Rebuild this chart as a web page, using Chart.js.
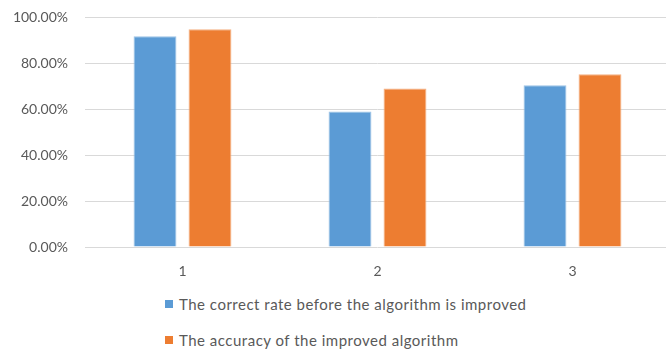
<!DOCTYPE html>
<html>
<head>
<meta charset="utf-8">
<script src="https://cdn.jsdelivr.net/npm/chart.js@4/dist/chart.umd.min.js"></script>
<style>
  body { margin: 0; background: #fff; font-family: Lato, sans-serif; overflow: hidden; }
  #wrap { position: relative; width: 670px; height: 293px; margin-top: -8px; }
  #legend { padding-left: 165px; margin-top: 10px; }
  .item { display: flex; align-items: center; height: 18px; margin-bottom: 18px; font-size: 15px; letter-spacing: 0.5px; color: #595959; }
  .box { width: 8px; height: 8px; margin-right: 6px; }
</style>
</head>
<body>
<div id="wrap"><canvas id="barChart"></canvas></div>
<div id="legend"></div>
<script>
// Kategorien und Werte (in Prozent)
const categories = ['1', '2', '3'];
const seriesNames = ['The correct rate before the algorithm is improved', 'The accuracy of the improved algorithm'];
const beforeValues = [91.8, 59.0, 70.4];
const improvedValues = [94.8, 69.0, 75.2];
const yTicks = [0, 20, 40, 60, 80, 100];

const colors = ['#5B9BD5', '#ED7D31'];
const borders = ['#9DC3E6', '#F4B183'];

const chartData = {
  labels: categories,
  datasets: [
    { label: seriesNames[0], data: beforeValues, backgroundColor: colors[0], borderColor: borders[0], borderWidth: 1 },
    { label: seriesNames[1], data: improvedValues, backgroundColor: colors[1], borderColor: borders[1], borderWidth: 1 }
  ]
};

const tickFont = { family: 'Lato', size: 14 };

const ctx = document.getElementById('barChart').getContext('2d');
const myChart = new Chart(ctx, {
  type: 'bar',
  data: chartData,
  options: {
    responsive: true,
    maintainAspectRatio: false,
    animation: false,
    layout: { padding: 0 },
    categoryPercentage: 0.564,
    barPercentage: 0.78,
    plugins: { legend: { display: false }, tooltip: { enabled: false } },
    scales: {
      x: {
        grid: { display: false },
        border: { display: false },
        ticks: { color: '#595959', font: tickFont, padding: 8 },
        afterFit: s => { s.height = 38; }
      },
      y: {
        min: 0,
        max: 100,
        afterBuildTicks: s => { s.ticks = yTicks.map(v => ({ value: v })); },
        grid: { color: '#D9D9D9', drawTicks: false },
        border: { display: false },
        ticks: { color: '#595959', font: tickFont, padding: 17, callback: v => v.toFixed(2) + '%' },
        afterFit: s => { s.width = 85; }
      }
    }
  }
});

// Legende als HTML (zwei Zeilen)
const legend = document.getElementById('legend');
seriesNames.forEach((name, i) => {
  const row = document.createElement('div');
  row.className = 'item';
  row.innerHTML = '<span class="box" style="background:' + colors[i] + '"></span><span>' + name + '</span>';
  legend.appendChild(row);
});
</script>
</body>
</html>
